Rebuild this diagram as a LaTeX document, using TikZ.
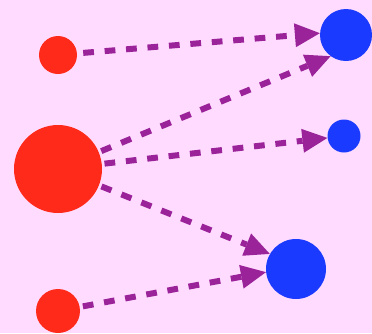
\documentclass[tikz,border=0pt]{standalone}
\usepackage{tikz}
\usetikzlibrary{arrows.meta, backgrounds}
\definecolor{fundo}{HTML}{FFDCFF}
\definecolor{vermelho}{HTML}{FF2A1A}
\definecolor{azul}{HTML}{1A3AFF}
\definecolor{roxo}{HTML}{9B2399}

\begin{document}
\begin{tikzpicture}[
        x=1pt, y=-1pt,
        origem/.style={circle, fill=vermelho, inner sep=0pt, minimum size=#1},
        destino/.style={circle, fill=azul, inner sep=0pt, minimum size=#1},
        seta/.style={-{Triangle[length=25pt, width=24pt, line width=0pt]}, roxo, line width=6pt,
                     dash pattern=on 10.75pt off 10.75pt, dash phase=17.7pt}
    ]
        \node[origem=38pt] (o1) at (58,55) {};
        \node[origem=88pt] (o2) at (58,169) {};
        \node[origem=44pt] (o3) at (58,311) {};

        \node[destino=52pt] (d1) at (346,35) {};
        \node[destino=33pt] (d2) at (344,136) {};
        \node[destino=60pt] (d3) at (296,269) {};

        % setas por baixo dos circulos
        \begin{scope}[on background layer]
            \fill[fundo] (0,0) rectangle (372,333);
            \draw[seta] (o1.center) -- (d1.176);
            \draw[seta] (o2.center) -- (d1.234);
            \draw[seta] (o2.center) -- (d2);
            \draw[seta] (o2.center) -- (d3.150);
            \draw[seta] (o3.center) -- (d3.186);
        \end{scope}
    \end{tikzpicture}
\end{document}
